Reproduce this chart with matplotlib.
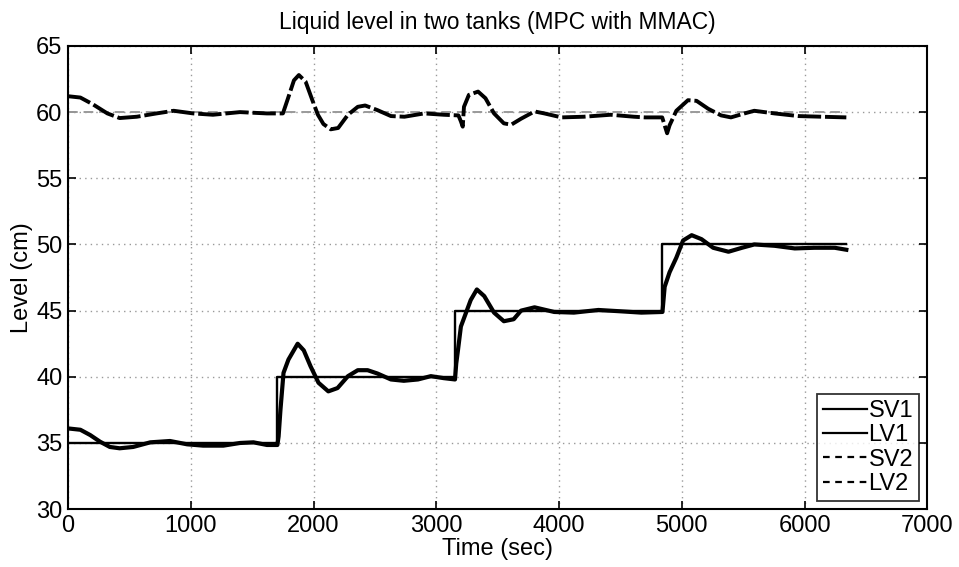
import matplotlib
matplotlib.use("Agg")
import matplotlib.pyplot as plt

# ---- data ----
sv1_t = [0, 1700, 3150, 4840, 6340]
sv1_v = [35, 40, 45, 50, 50]

lv1_t = [0, 100, 180, 260, 340, 420, 530, 670, 830, 970, 1100, 1265, 1400, 1510,
         1620, 1705, 1715, 1730, 1755, 1795, 1870, 1920, 1975, 2040, 2120, 2195,
         2280, 2360, 2440, 2520, 2630, 2735, 2850, 2955, 3060, 3152, 3162, 3176,
         3200, 3240, 3280, 3330, 3390, 3470, 3550, 3630, 3690, 3800, 3960, 4120,
         4320, 4500, 4670, 4842, 4860, 4900, 4955, 5010, 5080, 5160, 5255, 5380,
         5490, 5590, 5755, 5920, 6080, 6245, 6340]
lv1_v = [36.1, 36.0, 35.6, 35.1, 34.7, 34.6, 34.7, 35.05, 35.15, 34.9, 34.8, 34.8,
         35.0, 35.05, 34.85, 34.85, 35.5, 37.5, 40.3, 41.3, 42.5, 42.0, 40.8, 39.55,
         38.9, 39.15, 40.05, 40.5, 40.5, 40.25, 39.8, 39.7, 39.8, 40.05, 39.9, 39.8,
         41.0, 42.0, 43.8, 44.8, 45.8, 46.6, 46.1, 44.85, 44.2, 44.35, 45.0, 45.25,
         44.9, 44.85, 45.05, 44.95, 44.85, 44.9, 46.8, 47.9, 49.0, 50.3, 50.7, 50.4,
         49.75, 49.45, 49.75, 50.0, 49.9, 49.7, 49.75, 49.75, 49.6]

sv2_t = [0, 6340]
sv2_v = [60, 60]

lv2_t = [0, 100, 200, 320, 420, 560, 720, 860, 1020, 1180, 1400, 1620, 1750, 1790,
         1840, 1880, 1935, 1990, 2035, 2080, 2140, 2200, 2280, 2360, 2420, 2520,
         2630, 2740, 2900, 3060, 3180, 3200, 3215, 3225, 3265, 3340, 3400, 3470,
         3550, 3610, 3690, 3800, 3880, 4020, 4200, 4420, 4610, 4700, 4840, 4860,
         4880, 4900, 4955, 5050, 5120, 5215, 5320, 5400, 5510, 5590, 5755, 5950,
         6140, 6340]
lv2_v = [61.2, 61.1, 60.6, 59.9, 59.55, 59.65, 59.9, 60.1, 59.9, 59.8, 60.0, 59.9,
         59.9, 61.0, 62.4, 62.8, 62.3, 60.9, 59.8, 59.1, 58.7, 58.8, 59.8, 60.4, 60.5,
         60.15, 59.7, 59.65, 59.9, 59.8, 59.75, 59.3, 58.9, 60.4, 61.3, 61.55, 61.05,
         59.9, 59.15, 59.05, 59.5, 60.05, 59.9, 59.6, 59.65, 59.8, 59.65, 59.6, 59.6,
         59.0, 58.4, 59.0, 60.1, 60.9, 60.85, 60.25, 59.75, 59.6, 59.9, 60.1, 59.9,
         59.7, 59.65, 59.6]

x_ticks = [0, 1000, 2000, 3000, 4000, 5000, 6000, 7000]
y_ticks = [30, 35, 40, 45, 50, 55, 60, 65]

plt.rcParams['font.family'] = ['Liberation Sans', 'DejaVu Sans']

fig = plt.figure(figsize=(9.59, 5.67), dpi=100)
ax = fig.add_axes([0.071, 0.102, 0.896, 0.817])

ax.step(sv1_t, sv1_v, where='post', color='black', lw=1.7, label='SV1')
ax.plot(lv1_t, lv1_v, color='black', lw=3.0, label='LV1')
ax.plot(sv2_t, sv2_v, color='#9a9a9a', lw=1.4, ls=(0, (5, 3)), label='SV2')
ax.plot(lv2_t, lv2_v, color='black', lw=2.8, ls=(0, (6, 1.0)), label='LV2')

ax.set_xlim(0, 7000)
ax.set_ylim(30, 65)
ax.set_xticks(x_ticks)
ax.set_yticks(y_ticks)
ax.tick_params(direction='in', length=6, width=1.2, top=True, right=True,
               labelsize=17, pad=4)
for s in ax.spines.values():
    s.set_linewidth(1.5)
ax.grid(True, color='#999999', ls=(0, (1, 3)), lw=1.0)

ax.set_title('Liquid level in two tanks (MPC with MMAC)', fontsize=16.5, pad=12)
ax.set_xlabel('Time (sec)', fontsize=17, labelpad=1)
ax.set_ylabel('Level (cm)', fontsize=17, labelpad=2)

leg = ax.legend(loc='lower right', fontsize=17, frameon=True, fancybox=False,
                edgecolor='black', handlelength=1.9, handletextpad=0.05,
                borderpad=0.25, labelspacing=0.1, borderaxespad=0.35)
leg.get_frame().set_linewidth(1.3)
for h, st in zip(leg.get_lines(), ['-', '-', (0, (3, 2.5)), (0, (3, 2.5))]):
    h.set_linewidth(1.6)
    h.set_linestyle(st)
    h.set_color('black')

fig.savefig('out.png', dpi=100)
